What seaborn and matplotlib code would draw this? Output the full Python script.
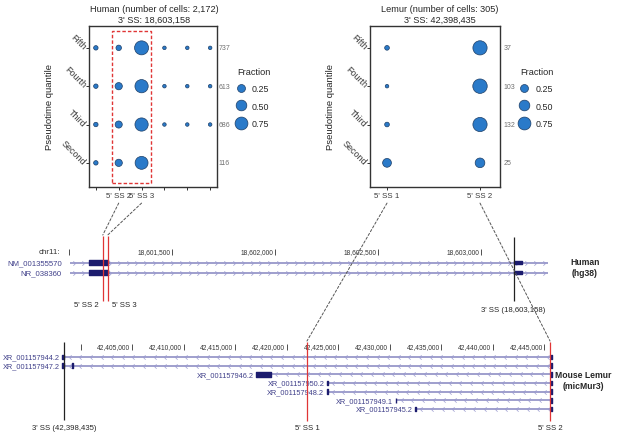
import matplotlib

matplotlib.use("Agg")
import matplotlib.pyplot as plt
import numpy as np
import pandas as pd
import seaborn as sns
from matplotlib.lines import Line2D
from matplotlib.patches import ConnectionPatch, Rectangle
from matplotlib.path import Path

# ---- data -------------------------------------------------------------
quantiles = ["Second", "Third", "Fourth", "Fifth"]

human_site_labels = ["", "5' SS 2", "5' SS 3", "", "", ""]
human_frac_second = [0.04, 0.20, 0.76, None, None, None]
human_frac_third = [0.04, 0.19, 0.80, 0.005, 0.005, 0.005]
human_frac_fourth = [0.04, 0.20, 0.80, 0.005, 0.005, 0.005]
human_frac_fifth = [0.04, 0.09, 0.90, 0.005, 0.005, 0.005]
human_cells = [116, 686, 613, 737]

lemur_site_labels = ["5' SS 1", "5' SS 2"]
lemur_frac_second = [0.32, 0.40]
lemur_frac_third = [0.05, 0.93]
lemur_frac_fourth = [0.005, 0.96]
lemur_frac_fifth = [0.05, 0.93]
lemur_cells = [25, 132, 103, 37]

legend_fractions = [0.25, 0.50, 0.75]

# human locus (hg38, chr11, plus strand)
human_ticks = [18601000, 18601500, 18602000, 18602500, 18603000]
human_tick_labels = ["", "18,601,500", "18,602,000", "18,602,500", "18,603,000"]
human_tx_names = ["NM_001355570", "NR_038360"]
human_tx_start = [18601005, 18601005]
human_tx_end = [18603325, 18603325]
human_exon1 = (18601098, 18601188)
human_exon2 = (18603158, 18603200)
human_5ss = [18601164, 18601188]
human_3ss = 18603158

# mouse lemur locus (micMur3, minus strand)
lemur_ticks = [42400000, 42405000, 42410000, 42415000, 42420000,
               42425000, 42430000, 42435000, 42440000, 42445000]
lemur_tick_labels = ["", "42,405,000", "42,410,000", "42,415,000", "42,420,000",
                     "42,425,000", "42,430,000", "42,435,000", "42,440,000", "42,445,000"]
lemur_tx_names = ["XR_001157944.2", "XR_001157947.2", "XR_001157946.2", "XR_001157950.2",
                  "XR_001157948.2", "XR_001157949.1", "XR_001157945.2"]
lemur_tx_start = [42398230, 42398230, 42417070, 42423890, 42423890, 42430570, 42432480]
lemur_tx_end = [42445730] * 7
lemur_first_exon_end = [42398435, 42398435, 42418480, 42423960, 42423960, 42430640, 42432550]
lemur_extra_exon = (42399200, 42399300)  # XR_001157947.2 only
lemur_last_exon_start = 42445650
lemur_5ss = [42421968, 42445540]
lemur_3ss = 42398435

# ---- style ------------------------------------------------------------
W, H = 617, 439
DOT = "#2a7ac9"
EDGE = "#1d3e66"
SIZES = (6, 112)
RED = "#e03535"
NAVY = "#1c1c6e"
TXT_BLUE = "#40408a"
TRACK = "#8585c0"

sns.set_style("white")
plt.rcParams["font.family"] = ["Liberation Sans", "DejaVu Sans"]


def rect(l, t, r, b):
    return [l / W, 1 - b / H, (r - l) / W, (b - t) / H]


def dot_panel(ax, fracs, site_labels, cells, xlim, count_x):
    rows = []
    for qi, row in enumerate(fracs):
        for si, f in enumerate(row):
            if f is not None:
                rows.append({"site": si + 1, "quantile": qi + 1, "fraction": f})
    df = pd.DataFrame(rows)
    sns.scatterplot(data=df, x="site", y="quantile", size="fraction", sizes=SIZES,
                    size_norm=(0, 1), color=DOT, edgecolor=EDGE, linewidth=0.5,
                    legend=False, ax=ax, zorder=3)
    ax.set_xlim(xlim)
    ax.set_ylim(0.37, 4.57)
    ax.set_xticks(range(1, len(site_labels) + 1), site_labels, fontsize=5.7, color="#3a3a3a")
    ax.set_yticks(range(1, 5), quantiles, rotation=-45, ha="right", va="center",
                  rotation_mode="anchor", fontsize=6.5, color="#3a3a3a")
    ax.tick_params(axis="both", length=2.2, width=0.7, color="#333333", pad=1.2,
                   left=True, bottom=True)
    ax.set_xlabel("")
    ax.set_ylabel("Pseudotime quantile", fontsize=6.8, labelpad=4)
    for s in ax.spines.values():
        s.set_visible(True)
        s.set_color("#333333")
        s.set_linewidth(1.0)
    for qi, c in enumerate(cells):
        ax.text(count_x, qi + 1, str(c), transform=ax.get_yaxis_transform(),
                fontsize=5, color="#707070", va="center", ha="left")
    handles = [Line2D([], [], ls="", marker="o", markerfacecolor=DOT, markeredgecolor=EDGE,
                      markeredgewidth=0.5,
                      markersize=np.sqrt(SIZES[0] + (SIZES[1] - SIZES[0]) * f))
               for f in legend_fractions]
    leg = ax.legend(handles, [f"{f:.2f}" for f in legend_fractions], title="Fraction",
                    loc="upper left", bbox_to_anchor=(1.12, 0.775), frameon=False,
                    fontsize=6.4, title_fontsize=6.6, borderpad=0, handlelength=1.0,
                    handletextpad=0.7, labelspacing=0.95)
    leg._legend_box.align = "left"


def chevrons(ax, start, end, y, step, pointing):
    if pointing == ">":
        verts = [(-0.5, 1), (0.5, 0), (-0.5, -1)]
    else:
        verts = [(0.5, 1), (-0.5, 0), (0.5, -1)]
    path = Path(verts, [Path.MOVETO, Path.LINETO, Path.LINETO])
    xs = np.arange(start + step / 2, end, step)
    ax.plot(xs, [y] * len(xs), ls="", marker=path, markersize=3.2,
            markerfacecolor="none", markeredgecolor="#9a9ad0", markeredgewidth=0.5, zorder=2)


def ruler(ax, ticks, labels, y, first_label=None):
    ax.vlines(ticks, y - 3.2, y + 3.2, color="#333333", lw=0.6)
    for t, lab in zip(ticks, labels):
        if lab:
            ax.annotate(lab, xy=(t, y), xytext=(-1.2, 0), textcoords="offset points",
                        ha="right", va="center", fontsize=4.8, color="#333333")
    if first_label:
        ax.annotate(first_label, xy=(ticks[0], y), xytext=(-6, 0), textcoords="offset points",
                    ha="right", va="center", fontsize=5.8, color="#333333")


fig = plt.figure(figsize=(W / 100, H / 100), dpi=100)
fig.patch.set_facecolor("white")

# ---- dot plots --------------------------------------------------------
ax_h = fig.add_axes(rect(89, 27, 217, 188))
dot_panel(ax_h, [human_frac_second, human_frac_third, human_frac_fourth, human_frac_fifth],
          human_site_labels, human_cells, (0.7, 6.3), 1.012)
ax_h.add_patch(Rectangle((1.71, 0.47), 1.70, 3.97, fill=False, ec=RED, lw=1.0,
                         ls=(0, (2.5, 1.5)), zorder=4))

ax_l = fig.add_axes(rect(370, 27, 500, 188))
dot_panel(ax_l, [lemur_frac_second, lemur_frac_third, lemur_frac_fourth, lemur_frac_fifth],
          lemur_site_labels, lemur_cells, (0.817, 2.215), 1.03)

fig.text(154 / W, 1 - 9 / H, "Human (number of cells: 2,172)", ha="center", va="center", fontsize=6.6)
fig.text(154 / W, 1 - 20 / H, "3' SS: 18,603,158", ha="center", va="center", fontsize=6.6)
fig.text(440 / W, 1 - 9 / H, "Lemur (number of cells: 305)", ha="center", va="center", fontsize=6.6)
fig.text(440 / W, 1 - 20 / H, "3' SS: 42,398,435", ha="center", va="center", fontsize=6.6)

# ---- human track ------------------------------------------------------
ax_ht = fig.add_axes(rect(0, 228, W, 322))
ax_ht.set_xlim(18600665, 18603660)
ax_ht.set_ylim(322, 228)
ax_ht.axis("off")
ruler(ax_ht, human_ticks, human_tick_labels, 253, "chr11:")
for i, name in enumerate(human_tx_names):
    y = 263.5 + 10 * i
    ax_ht.hlines(y, human_tx_start[i], human_tx_end[i], color=TRACK, lw=1.1, zorder=1)
    chevrons(ax_ht, human_tx_start[i], human_tx_end[i], y, 43, ">")
    ax_ht.broken_barh([(human_exon1[0], human_exon1[1] - human_exon1[0])], (y - 2.6, 5.2),
                      color=NAVY, zorder=3)
    ax_ht.broken_barh([(human_exon2[0], human_exon2[1] - human_exon2[0])], (y - 1.8, 3.6),
                      color=NAVY, zorder=3)
    ax_ht.annotate(name, xy=(human_tx_start[i], y), xytext=(-6, 0), textcoords="offset points",
                   ha="right", va="center", fontsize=5.6, color=TXT_BLUE)
ax_ht.vlines(human_5ss, 237, 302, color=RED, lw=0.9, zorder=4)
ax_ht.vlines(human_3ss, 238, 302, color="#222222", lw=0.9, zorder=4)
ax_ht.annotate("5' SS 2", xy=(human_5ss[0], 306), xytext=(-3, 0), textcoords="offset points",
               ha="right", va="center", fontsize=5.6)
ax_ht.annotate("5' SS 3", xy=(human_5ss[1], 306), xytext=(3, 0), textcoords="offset points",
               ha="left", va="center", fontsize=5.6)
ax_ht.text(human_3ss, 310.5, "3' SS (18,603,158)", ha="center", va="center", fontsize=5.6)
fig.text(585 / W, 1 - 268 / H, "Human\n(hg38)", ha="center", va="center", fontsize=6.2,
         fontweight="bold", linespacing=1.25)

# ---- lemur track ------------------------------------------------------
ax_lt = fig.add_axes(rect(0, 335, W, H))
ax_lt.set_xlim(42392192, 42452037)
ax_lt.set_ylim(H, 335)
ax_lt.axis("off")
ruler(ax_lt, lemur_ticks, lemur_tick_labels, 348)
for i, name in enumerate(lemur_tx_names):
    y = 358 + 8.67 * i
    s, e = lemur_tx_start[i], lemur_tx_end[i]
    ax_lt.hlines(y, s, e, color=TRACK, lw=1.1, zorder=1)
    chevrons(ax_lt, lemur_first_exon_end[i], lemur_last_exon_start, y, 1030, "<")
    ax_lt.broken_barh([(s, lemur_first_exon_end[i] - s)], (y - 2.4, 4.8), color=NAVY, zorder=3)
    ax_lt.broken_barh([(lemur_last_exon_start, e - lemur_last_exon_start)], (y - 2.4, 4.8),
                      color=NAVY, zorder=3)
    if name == "XR_001157947.2":
        ax_lt.broken_barh([(lemur_extra_exon[0], lemur_extra_exon[1] - lemur_extra_exon[0])],
                          (y - 2.4, 4.8), color=NAVY, zorder=3)
    ax_lt.annotate(name, xy=(s, y), xytext=(-1.8, 0), textcoords="offset points",
                   ha="right", va="center", fontsize=5.3, color=TXT_BLUE)
ax_lt.vlines(lemur_5ss, 343, 422, color=RED, lw=0.9, zorder=4)
ax_lt.vlines(lemur_3ss, 343, 421, color="#222222", lw=0.9, zorder=4)
ax_lt.text(lemur_3ss, 429, "3' SS (42,398,435)", ha="center", va="center", fontsize=5.6)
ax_lt.text(lemur_5ss[0], 429, "5' SS 1", ha="center", va="center", fontsize=5.6)
ax_lt.text(lemur_5ss[1], 429, "5' SS 2", ha="center", va="center", fontsize=5.6)
fig.text(583 / W, 1 - 381 / H, "Mouse Lemur\n(micMur3)", ha="center", va="center",
         fontsize=6.2, fontweight="bold", linespacing=1.25)

# ---- dashed connectors ------------------------------------------------
links = [
    (ax_h, 2, ax_ht, human_5ss[0], 236),
    (ax_h, 3, ax_ht, human_5ss[1], 236),
    (ax_l, 1, ax_lt, lemur_5ss[0], 342),
    (ax_l, 2, ax_lt, lemur_5ss[1], 342),
]
for ax_a, xa, ax_b, xb, yb in links:
    con = ConnectionPatch(xyA=(xa, -0.1), coordsA=ax_a.get_xaxis_transform(),
                          xyB=(xb, yb), coordsB=ax_b.transData,
                          color="#555555", lw=0.7, ls=(0, (2.5, 2)))
    fig.add_artist(con)

fig.savefig("out.png", dpi=100, facecolor="white")
